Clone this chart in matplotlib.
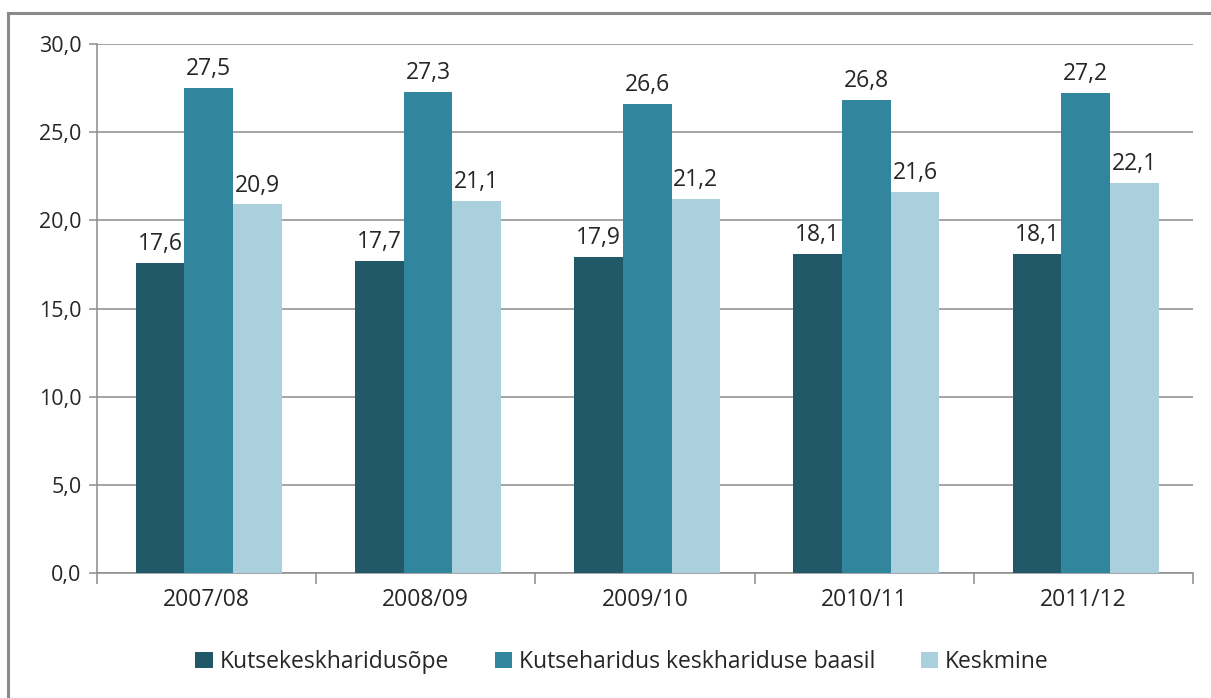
import numpy as np
import matplotlib.pyplot as plt
from matplotlib.lines import Line2D

years = ["2007/08", "2008/09", "2009/10", "2010/11", "2011/12"]
series_names = ["Kutsekeskharidusõpe", "Kutseharidus keskhariduse baasil", "Keskmine"]
kutsekesk = [17.6, 17.7, 17.9, 18.1, 18.1]
kesk_baasil = [27.5, 27.3, 26.6, 26.8, 27.2]
keskmine = [20.9, 21.1, 21.2, 21.6, 22.1]
colors = ["#215968", "#31859C", "#AACFDD"]

plt.rcParams['font.family'] = ['Open Sans', 'DejaVu Sans']
txt_color = "#262626"

fig = plt.figure(figsize=(12.11, 6.98), dpi=100)
ax = fig.add_axes([97 / 1211, 125 / 698, 1096 / 1211, 529 / 698])

x = np.arange(len(years))
w = 0.222
for i, (vals, name) in enumerate(zip([kutsekesk, kesk_baasil, keskmine], series_names)):
    bars = ax.bar(x + (i - 1) * w + 0.01, vals, w, color=colors[i], label=name, zorder=3)
    for b, v in zip(bars, vals):
        ax.annotate(f"{v:.1f}".replace(".", ","), (b.get_x() + b.get_width() / 2, v),
                    xytext=(0, 5), textcoords="offset points", ha="center", va="bottom",
                    fontsize=16.5, color=txt_color, zorder=4)

ax.set_ylim(0, 30)
ax.set_xlim(-0.5, 4.5)
yt = np.arange(0, 31, 5)
ax.set_yticks(yt)
ax.set_yticklabels([f"{v:.1f}".replace(".", ",") for v in yt], fontsize=15.5, color=txt_color)
ax.yaxis.grid(True, color="#8C8C8C", lw=1.1, zorder=0)
ax.set_axisbelow(True)

ax.set_xticks(np.arange(-0.5, 5, 1))
ax.set_xticklabels([])
ax.set_xticks(x, minor=True)
ax.set_xticklabels(years, minor=True, fontsize=16.5, color=txt_color)
ax.tick_params(axis="x", which="major", length=8, color="#8C8C8C", width=1.1)
ax.tick_params(axis="x", which="minor", length=0, pad=11)
ax.tick_params(axis="y", length=6, color="#8C8C8C", width=1.1, pad=5)

for s in ["top", "right"]:
    ax.spines[s].set_visible(False)
for s in ["left", "bottom"]:
    ax.spines[s].set_color("#8C8C8C")
    ax.spines[s].set_linewidth(1.1)

# outer chart frame (only top and left edges are visible in the crop)
fig.add_artist(Line2D([8 / 1211, 8 / 1211], [0, 685 / 698], color="#8A8A8A", lw=2.2))
fig.add_artist(Line2D([8 / 1211, 1], [685 / 698, 685 / 698], color="#8A8A8A", lw=2.2))

leg = fig.legend(loc="center", bbox_to_anchor=(622 / 1211, 36 / 698), ncol=3, frameon=False,
                 fontsize=16.5, handlelength=0.75, handleheight=0.75, handletextpad=0.3,
                 columnspacing=2.0)
for t in leg.get_texts():
    t.set_color(txt_color)

fig.savefig("out.png", dpi=100)
